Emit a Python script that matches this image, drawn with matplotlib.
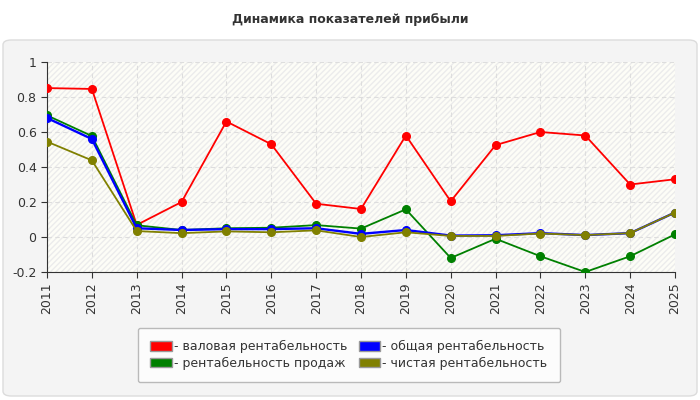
import matplotlib
matplotlib.use("Agg")
import matplotlib.pyplot as plt
from matplotlib.patches import FancyBboxPatch, Rectangle, Patch

years = list(range(2011, 2026))
gross = [0.851, 0.846, 0.069, 0.20, 0.66, 0.53, 0.19, 0.16, 0.58, 0.204, 0.525, 0.60, 0.58, 0.30, 0.33]
sales = [0.695, 0.577, 0.067, 0.04, 0.05, 0.053, 0.068, 0.048, 0.158, -0.12, -0.01, -0.11, -0.20, -0.11, 0.015]
total = [0.68, 0.56, 0.05, 0.04, 0.045, 0.045, 0.05, 0.018, 0.04, 0.008, 0.01, 0.022, 0.011, 0.022, 0.14]
net = [0.545, 0.438, 0.034, 0.022, 0.032, 0.027, 0.038, 0.0, 0.027, 0.006, 0.006, 0.02, 0.011, 0.022, 0.14]

labels = ["- валовая рентабельность", "- рентабельность продаж",
          "- общая рентабельность", "- чистая рентабельность"]
colors = ["#ff0000", "#008000", "#0000ff", "#808000"]

fig = plt.figure(figsize=(7, 4), dpi=100)
fig.patch.set_facecolor("white")

# grey rounded panel behind the chart
panel = FancyBboxPatch((3 / 700, 4 / 400), 694 / 700, 356 / 400,
                       boxstyle="round,pad=0,rounding_size=0.012",
                       transform=fig.transFigure, facecolor="#f4f4f4",
                       edgecolor="#dcdcdc", linewidth=1, zorder=-5)
fig.patches.append(panel)

fig.text(0.5, 1 - 20 / 400, "Динамика показателей прибыли", ha="center", va="center",
         fontsize=9, fontweight="bold", color="#333333")

ax = fig.add_axes([47 / 700, 1 - 272 / 400, 628 / 700, 210 / 400])
ax.set_facecolor("#fdfdf7")
ax.add_patch(Rectangle((0, 0), 1, 1, transform=ax.transAxes, facecolor="none",
                       edgecolor="#ececec", hatch="//////", linewidth=0, zorder=0))

widths = [1.3, 1.3, 1.7, 1.3]
for vals, c, lab, lw in zip([gross, sales, total, net], colors, labels, widths):
    ax.plot(years, vals, color=c, marker="o", markersize=5.5, linewidth=lw, label=lab, zorder=3)

ax.set_xlim(2011, 2025)
ax.set_ylim(-0.2, 1)
ax.set_xticks(years)
ax.set_xticklabels([str(y) for y in years], rotation=90)
ax.set_yticks([-0.2, 0, 0.2, 0.4, 0.6, 0.8, 1])
ax.set_yticklabels(["-0.2", "0", "0.2", "0.4", "0.6", "0.8", "1"])
ax.tick_params(labelsize=9, colors="#333333", length=4)
ax.grid(True, linestyle=(0, (4, 3)), color="#dddddd", linewidth=0.8)
for s in ["top", "right"]:
    ax.spines[s].set_visible(False)
for s in ["left", "bottom"]:
    ax.spines[s].set_color("#333333")

handles = [Patch(facecolor=c, edgecolor="#999999", label=l) for c, l in zip(colors, labels)]
leg = fig.legend(handles=handles, ncol=2, loc="center", bbox_to_anchor=(349 / 700, 1 - 355 / 400),
                 fontsize=9, frameon=True, fancybox=True, handlelength=1.7, handleheight=0.8,
                 handletextpad=0.2, columnspacing=0.9, borderpad=1.0, borderaxespad=0,
                 labelspacing=0.3)
leg.get_frame().set_facecolor("white")
leg.get_frame().set_edgecolor("#aaaaaa")
for t in leg.get_texts():
    t.set_color("#333333")

fig.savefig("out.png", dpi=100)
